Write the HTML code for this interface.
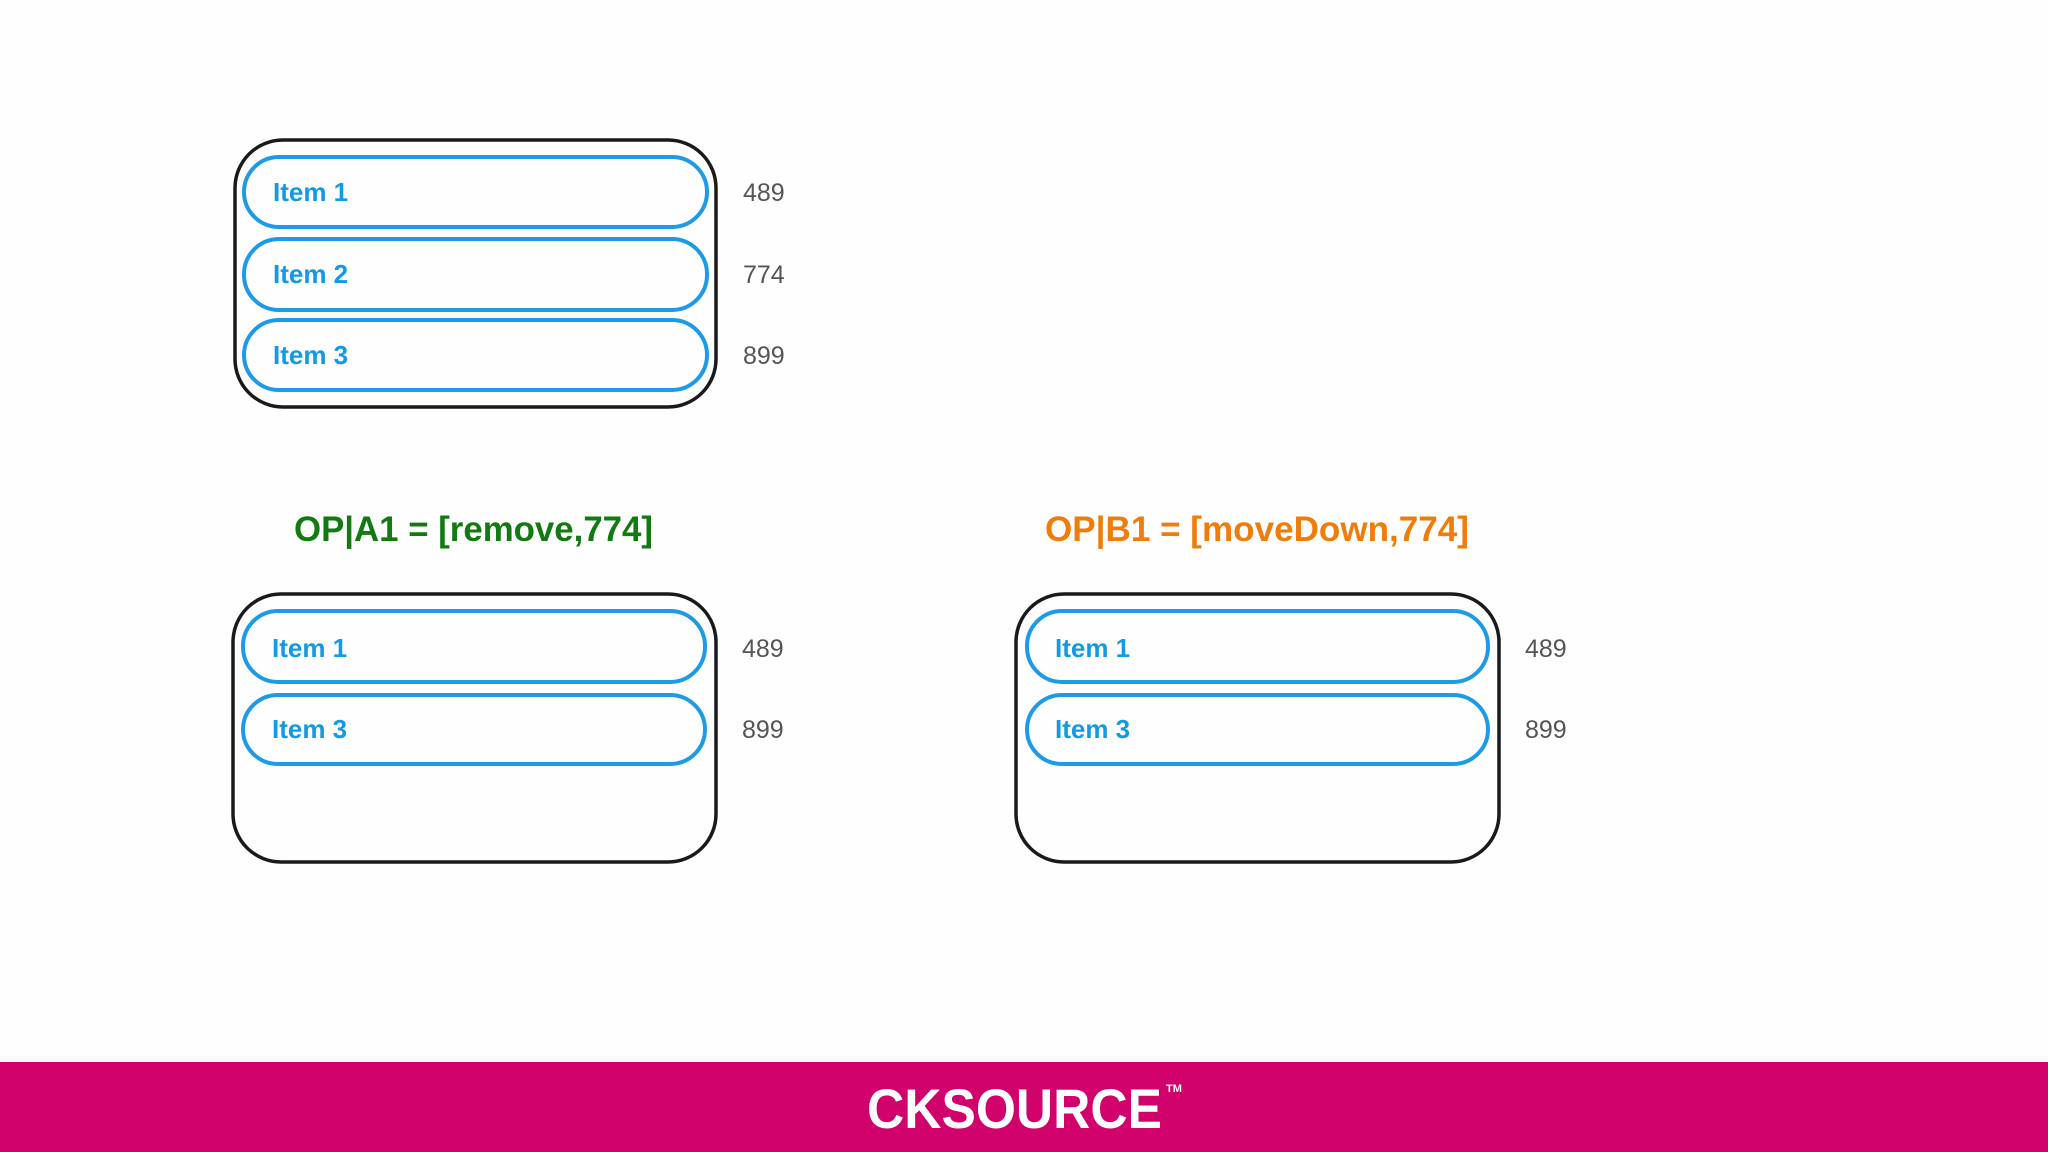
<!DOCTYPE html>
<html><head><meta charset="utf-8"><style>
html,body{margin:0;padding:0;background:#fff}
svg{display:block}
text{font-family:"Liberation Sans",Arial,sans-serif}
</style></head><body>
<svg width="2048" height="1152" viewBox="0 0 2048 1152" xmlns="http://www.w3.org/2000/svg">
<rect width="2048" height="1152" fill="#fefefe"/>
<g fill="none" stroke="#1a1a1a" stroke-width="3.5">
<rect x="235" y="140" width="481" height="267" rx="48"/>
<rect x="233" y="594" width="483" height="268" rx="48"/>
<rect x="1016" y="594" width="483" height="268" rx="48"/>
</g>
<g fill="none" stroke="#1e9be8" stroke-width="4">
<rect x="244" y="157" width="463" height="70" rx="35"/>
<rect x="244" y="239" width="463" height="71" rx="35"/>
<rect x="244" y="320" width="463" height="70" rx="35"/>
<rect x="243" y="611" width="462" height="71" rx="35"/>
<rect x="243" y="695" width="462" height="69" rx="35"/>
<rect x="1027" y="611" width="461" height="71" rx="35"/>
<rect x="1027" y="695" width="461" height="69" rx="35"/>
</g>
<g fill="#129ae6" font-weight="bold" font-size="26">
<text x="273" y="201">Item 1</text>
<text x="273" y="283">Item 2</text>
<text x="273" y="364">Item 3</text>
<text x="272" y="657">Item 1</text>
<text x="272" y="738">Item 3</text>
<text x="1055" y="657">Item 1</text>
<text x="1055" y="738">Item 3</text>
</g>
<g fill="#555" font-size="25">
<text x="743" y="201">489</text>
<text x="743" y="283">774</text>
<text x="743" y="364">899</text>
<text x="742" y="657">489</text>
<text x="742" y="738">899</text>
<text x="1525" y="657">489</text>
<text x="1525" y="738">899</text>
</g>
<text x="294" y="541" font-size="35" font-weight="bold" fill="#117a11" textLength="359" lengthAdjust="spacingAndGlyphs">OP|A1 = [remove,774]</text>
<text x="1045" y="541" font-size="35" font-weight="bold" fill="#f07c0a" textLength="424" lengthAdjust="spacingAndGlyphs">OP|B1 = [moveDown,774]</text>
<rect x="0" y="1062" width="2048" height="90" fill="#d1026b"/>
<text x="867" y="1128" font-size="56" font-weight="bold" fill="#fff" textLength="295" lengthAdjust="spacingAndGlyphs">CKSOURCE</text>
<text x="1166" y="1092" font-size="11" font-weight="bold" fill="#fff">TM</text>
</svg>
</body></html>
